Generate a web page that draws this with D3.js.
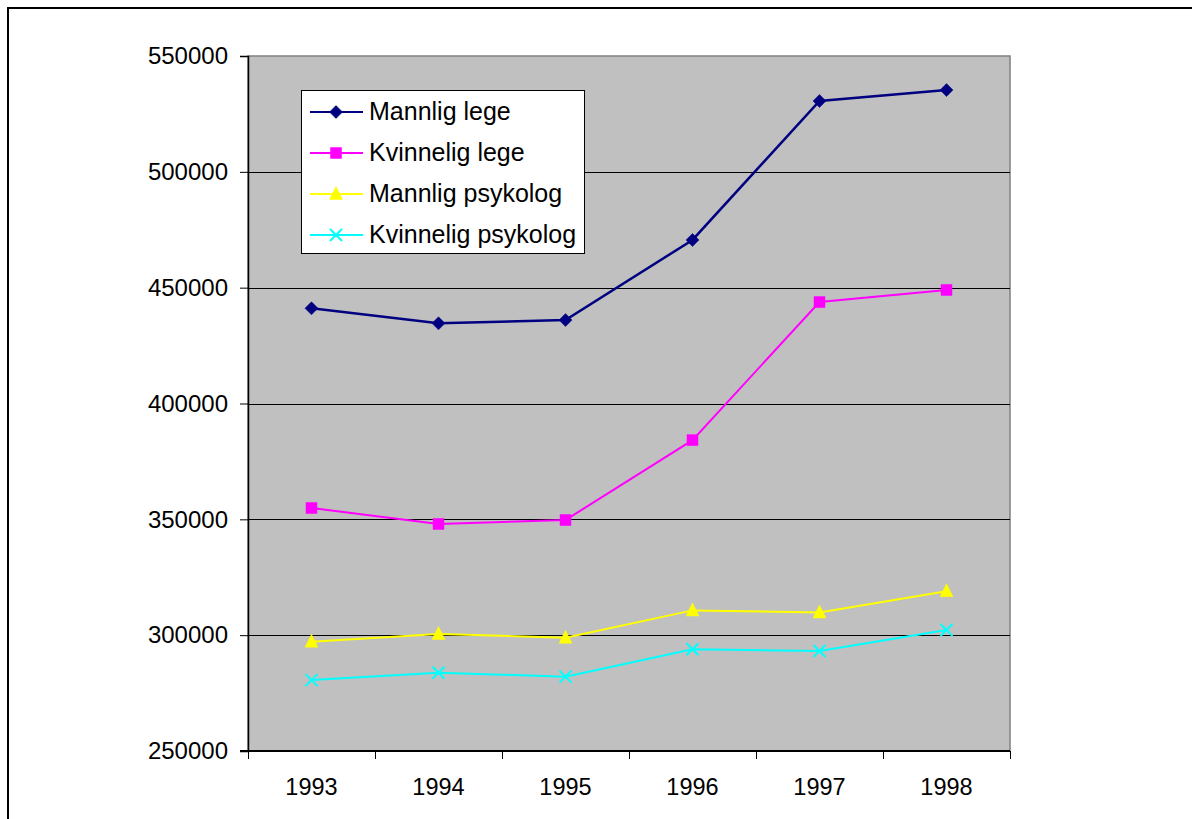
<!DOCTYPE html>
<html>
<head>
<meta charset="utf-8">
<script src="https://cdn.jsdelivr.net/npm/d3@7"></script>
<style>
  html, body { margin: 0; padding: 0; background: #fff; }
  svg { display: block; font-family: Arial, "Liberation Sans", sans-serif; }
</style>
</head>
<body>
<svg id="chart" width="1192" height="819"></svg>
<script>
// Years on the category axis
const years = ["1993", "1994", "1995", "1996", "1997", "1998"];

// Series values per year
const mannligLege      = [441100, 434600, 436000, 470600, 530600, 535300];
const kvinneligLege    = [354900, 348000, 349700, 384200, 443800, 449000];
const mannligPsykolog  = [297200, 300500, 298900, 310700, 309800, 319000];
const kvinneligPsykolog = [280600, 283800, 282100, 293900, 293200, 302200];

const seriesNames = ["Mannlig lege", "Kvinnelig lege", "Mannlig psykolog", "Kvinnelig psykolog"];

// Value axis ticks
const yTicks = [250000, 300000, 350000, 400000, 450000, 500000, 550000];

const series = [
  { name: seriesNames[0], values: mannligLege,       color: "#000080", marker: "diamond" },
  { name: seriesNames[1], values: kvinneligLege,     color: "#ff00ff", marker: "square" },
  { name: seriesNames[2], values: mannligPsykolog,   color: "#ffff00", marker: "triangle" },
  { name: seriesNames[3], values: kvinneligPsykolog, color: "#00ffff", marker: "cross" }
];

const svg = d3.select("#chart");

// Outer chart frame
svg.append("rect")
  .attr("x", 8).attr("y", 8)
  .attr("width", 1200).attr("height", 830)
  .attr("fill", "#fff").attr("stroke", "#000").attr("stroke-width", 2);

const plot = { left: 248, right: 1010, top: 56, bottom: 751 };

const x = d3.scaleBand().domain(years).range([plot.left, plot.right]).padding(0);
const y = d3.scaleLinear().domain([250000, 550000]).range([plot.bottom, plot.top]);

// Plot area
svg.append("rect")
  .attr("x", plot.left).attr("y", plot.top)
  .attr("width", plot.right - plot.left).attr("height", plot.bottom - plot.top)
  .attr("fill", "#c0c0c0").attr("stroke", "#808080").attr("stroke-width", 1.5);

// Gridlines
svg.append("g")
  .selectAll("line")
  .data(yTicks.filter(t => t !== 250000 && t !== 550000))
  .join("line")
  .attr("x1", plot.left).attr("x2", plot.right)
  .attr("y1", d => Math.round(y(d)) + 0.5).attr("y2", d => Math.round(y(d)) + 0.5)
  .attr("stroke", "#000").attr("stroke-width", 1);

// Y axis
const yAxis = d3.axisLeft(y).tickValues(yTicks).tickSize(8).tickPadding(12).tickFormat(d3.format("d"));
const gy = svg.append("g").attr("transform", `translate(${plot.left},0)`).call(yAxis);
gy.select(".domain").attr("stroke", "#000").attr("stroke-width", 1.5);
gy.selectAll(".tick line").attr("stroke", "#000");
gy.selectAll(".tick text").attr("font-size", 24).attr("fill", "#000")
  .attr("font-family", "Arial, 'Liberation Sans', sans-serif");

// X axis: ticks at category boundaries, labels centered in bands
const boundaries = years.map(d => x(d)).concat([plot.right]);
const gx = svg.append("g");
gx.append("line")
  .attr("x1", plot.left - 8).attr("x2", plot.right)
  .attr("y1", plot.bottom).attr("y2", plot.bottom)
  .attr("stroke", "#000").attr("stroke-width", 2);
gx.selectAll("line.tk").data(boundaries).join("line").attr("class", "tk")
  .attr("x1", d => Math.round(d) + 0.5).attr("x2", d => Math.round(d) + 0.5)
  .attr("y1", plot.bottom).attr("y2", plot.bottom + 8)
  .attr("stroke", "#000").attr("stroke-width", 1);
gx.selectAll("text").data(years).join("text")
  .attr("x", d => x(d) + x.bandwidth() / 2)
  .attr("y", 795)
  .attr("text-anchor", "middle")
  .attr("font-size", 23.5)
  .attr("fill", "#000")
  .text(d => d);

// Marker shapes
function markerPath(type, s) {
  const h = s / 2;
  switch (type) {
    case "diamond": return `M0,${-h}L${h},0L0,${h}L${-h},0Z`;
    case "square": return `M${-h + 0.5},${-h + 0.5}H${h - 0.5}V${h - 0.5}H${-h + 0.5}Z`;
    case "triangle": return `M0,${-h - 1}L${h},${h - 1}L${-h},${h - 1}Z`;
    case "cross": return `M${-h},${-h}L${h},${h}M${h},${-h}L${-h},${h}`;
  }
}
function drawMarker(g, type, color) {
  const isCross = type === "cross";
  g.append("path")
    .attr("d", markerPath(type, isCross ? 12 : (type === "square" ? 12 : 13)))
    .attr("fill", isCross ? "none" : color)
    .attr("stroke", color)
    .attr("stroke-width", isCross ? 2 : 0.5);
}

const line = d3.line()
  .x((d, i) => x(years[i]) + x.bandwidth() / 2)
  .y(d => y(d));

series.forEach(s => {
  const g = svg.append("g");
  g.append("path")
    .attr("d", line(s.values))
    .attr("fill", "none")
    .attr("stroke", s.color)
    .attr("stroke-width", s.marker === "diamond" ? 2.5 : 2);
  s.values.forEach((v, i) => {
    const m = g.append("g")
      .attr("transform", `translate(${x(years[i]) + x.bandwidth() / 2},${y(v)})`);
    drawMarker(m, s.marker, s.color);
  });
});

// Legend
const legend = svg.append("g");
legend.append("rect")
  .attr("x", 301.5).attr("y", 90.5).attr("width", 283).attr("height", 163)
  .attr("fill", "#fff").attr("stroke", "#000").attr("stroke-width", 1);
series.forEach((s, i) => {
  const cy = 112 + i * 41;
  const row = legend.append("g");
  row.append("line")
    .attr("x1", 310).attr("x2", 363).attr("y1", cy).attr("y2", cy)
    .attr("stroke", s.color).attr("stroke-width", 2);
  const m = row.append("g").attr("transform", `translate(336,${cy})`);
  drawMarker(m, s.marker, s.color);
  row.append("text")
    .attr("x", 369).attr("y", cy + 8)
    .attr("font-size", 25).attr("fill", "#000")
    .text(s.name);
});
</script>
</body>
</html>
